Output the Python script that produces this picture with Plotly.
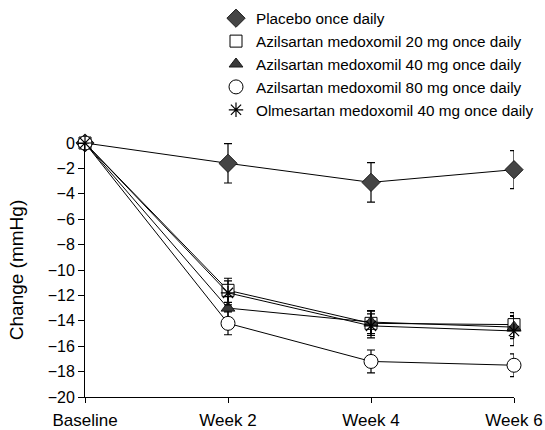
import plotly.graph_objects as go

categories = ["Baseline", "Week 2", "Week 4", "Week 6"]

series_names = [
    "Placebo once daily",
    "Azilsartan medoxomil 20 mg once daily",
    "Azilsartan medoxomil 40 mg once daily",
    "Azilsartan medoxomil 80 mg once daily",
    "Olmesartan medoxomil 40 mg once daily",
]

placebo = [0, -1.6, -3.1, -2.1]
placebo_err = [None, 1.55, 1.55, 1.5]

azl20 = [0, -11.6, -14.2, -14.3]
azl20_err = [None, 0.95, 0.95, 0.95]

azl40 = [0, -13.0, -14.1, -14.5]
azl40_err = [None, 0.9, 0.9, 0.9]

azl80 = [0, -14.2, -17.2, -17.5]
azl80_err = [None, 0.9, 0.9, 0.9]

olm40 = [0, -11.8, -14.4, -14.8]
olm40_err = [None, 0.95, 0.95, 1.15]

values = [placebo, azl20, azl40, azl80, olm40]
errors = [placebo_err, azl20_err, azl40_err, azl80_err, olm40_err]

styles = [
    dict(symbol="diamond", size=14, color="#454545", line=dict(color="#1a1a1a", width=1)),
    dict(symbol="square", size=12, color="white", line=dict(color="black", width=1)),
    dict(symbol="triangle-up", size=12, color="#3a3a3a", line=dict(color="#1a1a1a", width=1)),
    dict(symbol="circle", size=14, color="white", line=dict(color="black", width=1)),
    dict(symbol="asterisk-open", size=12, color="black", line=dict(color="black", width=1.2)),
]

fig = go.Figure()

for name, vals, errs, st in zip(series_names, values, errors, styles):
    fig.add_trace(go.Scatter(
        x=categories, y=vals, mode="lines+markers", name=name,
        line=dict(color="black", width=1),
        marker=st,
        error_y=dict(type="data", array=errs, visible=True, color="black",
                     thickness=1.2, width=4),
        showlegend=False, cliponaxis=False,
    ))

for name, st in zip(series_names, styles):
    fig.add_trace(go.Scatter(
        x=[None], y=[None], mode="markers", name=name, marker=st,
        showlegend=True,
    ))

fig.update_layout(
    width=545, height=430,
    margin=dict(l=85, r=31, t=143, b=33, autoexpand=False),
    paper_bgcolor="white", plot_bgcolor="white",
    font=dict(family="Liberation Sans, Arial, sans-serif", size=16, color="black"),
    legend=dict(x=(216 - 85) / 429, y=1.556, xanchor="left", yanchor="top",
                bgcolor="rgba(0,0,0,0)", font=dict(size=15.3), borderwidth=0),
    xaxis=dict(type="category", range=[0, 3], showline=True, linecolor="black",
               linewidth=1, ticks="outside", ticklen=5, tickcolor="black",
               tickfont=dict(size=17), ticklabelstandoff=3,
               showgrid=False, zeroline=False, automargin=False),
    yaxis=dict(range=[-20, 0], dtick=2, showline=True, linecolor="black",
               linewidth=1, ticks="outside", ticklen=6, tickcolor="black",
               showgrid=False, zeroline=False, automargin=False,
               title=dict(text="Change (mmHg)", standoff=19)),
)

fig.write_html("out.html", config={"displayModeBar": False},
               post_script="document.body.style.margin='0';")
